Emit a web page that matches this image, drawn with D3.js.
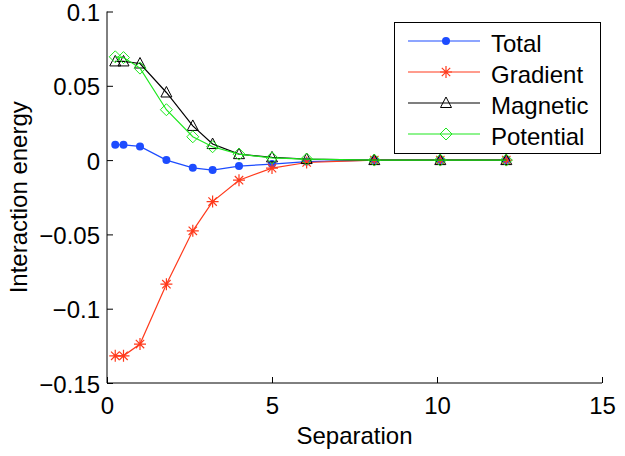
<!DOCTYPE html>
<html>
<head>
<meta charset="utf-8">
<script src="https://cdn.jsdelivr.net/npm/d3@7"></script>
<style>
  body { margin: 0; background: #fff; }
  text { font-family: 'Liberation Sans', Arial, sans-serif; }
</style>
</head>
<body>
<svg id="root" width="625" height="456"></svg>
<script>
const width = 625
const height = 456

// separation values
const separation = [0.25, 0.5, 1, 1.8, 2.6, 3.2, 4, 5, 6.05, 8.1, 10.1, 12.1]

// energies
const total = [0.0103, 0.0103, 0.0092, 0, -0.0052, -0.0067, -0.004, -0.0027, -0.001, 0, 0, 0]
const gradient = [-0.1317, -0.1317, -0.1238, -0.0835, -0.0476, -0.0279, -0.0135, -0.0054, -0.0016, 0, 0, 0]
const magnetic = [0.0664, 0.0664, 0.065, 0.0455, 0.023, 0.0108, 0.004, 0.0018, 0.0007, 0, 0, 0]
const potential = [0.0695, 0.069, 0.0619, 0.0339, 0.0157, 0.009, 0.004, 0.0015, 0.0007, 0, 0, 0]

const xTicks = [0, 5, 10, 15]
const yTicks = [-0.15, -0.1, -0.05, 0, 0.05, 0.1]

const series = [
  { name: 'Total', values: total, color: '#1d4cff', marker: 'dot' },
  { name: 'Gradient', values: gradient, color: '#ff3a1c', marker: 'star' },
  { name: 'Magnetic', values: magnetic, color: '#000000', marker: 'tri' },
  { name: 'Potential', values: potential, color: '#1ee81e', marker: 'diamond' }
]

const margin = { left: 107, right: 23, top: 11.5, bottom: 73 }

const svg = d3.select('#root')

const xScale = d3.scaleLinear()
  .domain([0, 15])
  .range([margin.left, width - margin.right])

const yScale = d3.scaleLinear()
  .domain([-0.15, 0.1])
  .range([height - margin.bottom, margin.top])

const fmt = d => d === 0 ? '0' : String(d).replace('-', '\u2212')

// axes, MATLAB style with ticks pointing in
const xAxis = d3.axisBottom(xScale).tickValues(xTicks).tickSize(-6).tickPadding(14).tickFormat(fmt)
const yAxis = d3.axisLeft(yScale).tickValues(yTicks).tickSize(-6).tickPadding(7).tickFormat(fmt)

const gx = svg.append('g')
  .attr('transform', `translate(0, ${yScale(-0.15)})`)
  .call(xAxis)
gx.select('.domain').attr('d', `M${xScale(0)},0H${xScale(15)}`)

const gy = svg.append('g')
  .attr('transform', `translate(${xScale(0)}, 0)`)
  .call(yAxis)
gy.select('.domain').attr('d', `M0,${yScale(-0.15)}V${yScale(0.1)}`)

svg.selectAll('.tick text').attr('font-size', 24).attr('fill', '#000')
svg.selectAll('.domain, .tick line').attr('stroke', '#000')
gy.selectAll('.tick text').attr('dy', '0.38em')

svg.append('text')
  .attr('x', (xScale(0) + xScale(15)) / 2)
  .attr('y', 444)
  .attr('text-anchor', 'middle')
  .attr('font-size', 24)
  .text('Separation')

svg.append('text')
  .attr('transform', `translate(27, ${(yScale(0.1) + yScale(-0.15)) / 2}) rotate(-90)`)
  .attr('text-anchor', 'middle')
  .attr('font-size', 24)
  .text('Interaction energy')

function drawMarker (g, type, color) {
  if (type === 'dot') {
    g.append('circle').attr('r', 4).attr('fill', color)
  } else if (type === 'star') {
    const s = 6
    g.append('path')
      .attr('d', `M${-s},0H${s}M0,${-s}V${s}M${-s * 0.7},${-s * 0.7}L${s * 0.7},${s * 0.7}M${-s * 0.7},${s * 0.7}L${s * 0.7},${-s * 0.7}`)
      .attr('stroke', color).attr('stroke-width', 1.2).attr('fill', 'none')
  } else if (type === 'tri') {
    g.append('path')
      .attr('d', 'M0,-6L5.5,4.5H-5.5Z')
      .attr('stroke', color).attr('stroke-width', 1).attr('fill', 'none')
  } else if (type === 'diamond') {
    g.append('path')
      .attr('d', 'M0,-6L6,0L0,6L-6,0Z')
      .attr('stroke', color).attr('stroke-width', 1).attr('fill', 'none')
  }
}

const line = d3.line()
  .x((d, i) => xScale(separation[i]))
  .y(d => yScale(d))

series.forEach(s => {
  svg.append('path')
    .attr('d', line(s.values))
    .attr('fill', 'none')
    .attr('stroke', s.color)
    .attr('stroke-width', 1.2)
  s.values.forEach((v, i) => {
    const g = svg.append('g').attr('transform', `translate(${xScale(separation[i])}, ${yScale(v)})`)
    drawMarker(g, s.marker, s.color)
  })
})

// legend
const legend = svg.append('g')
legend.append('rect')
  .attr('x', 394.5).attr('y', 22.5)
  .attr('width', 206).attr('height', 131)
  .attr('fill', '#fff').attr('stroke', '#000')

series.forEach((s, i) => {
  const y = 41 + i * 31
  legend.append('line')
    .attr('x1', 408).attr('x2', 480)
    .attr('y1', y).attr('y2', y)
    .attr('stroke', s.color).attr('stroke-width', 1.2)
  const g = legend.append('g').attr('transform', `translate(446, ${y})`)
  drawMarker(g, s.marker, s.color)
  legend.append('text')
    .attr('x', 491).attr('y', y + 10.5)
    .attr('font-size', 24)
    .text(s.name)
})
</script>
</body>
</html>
